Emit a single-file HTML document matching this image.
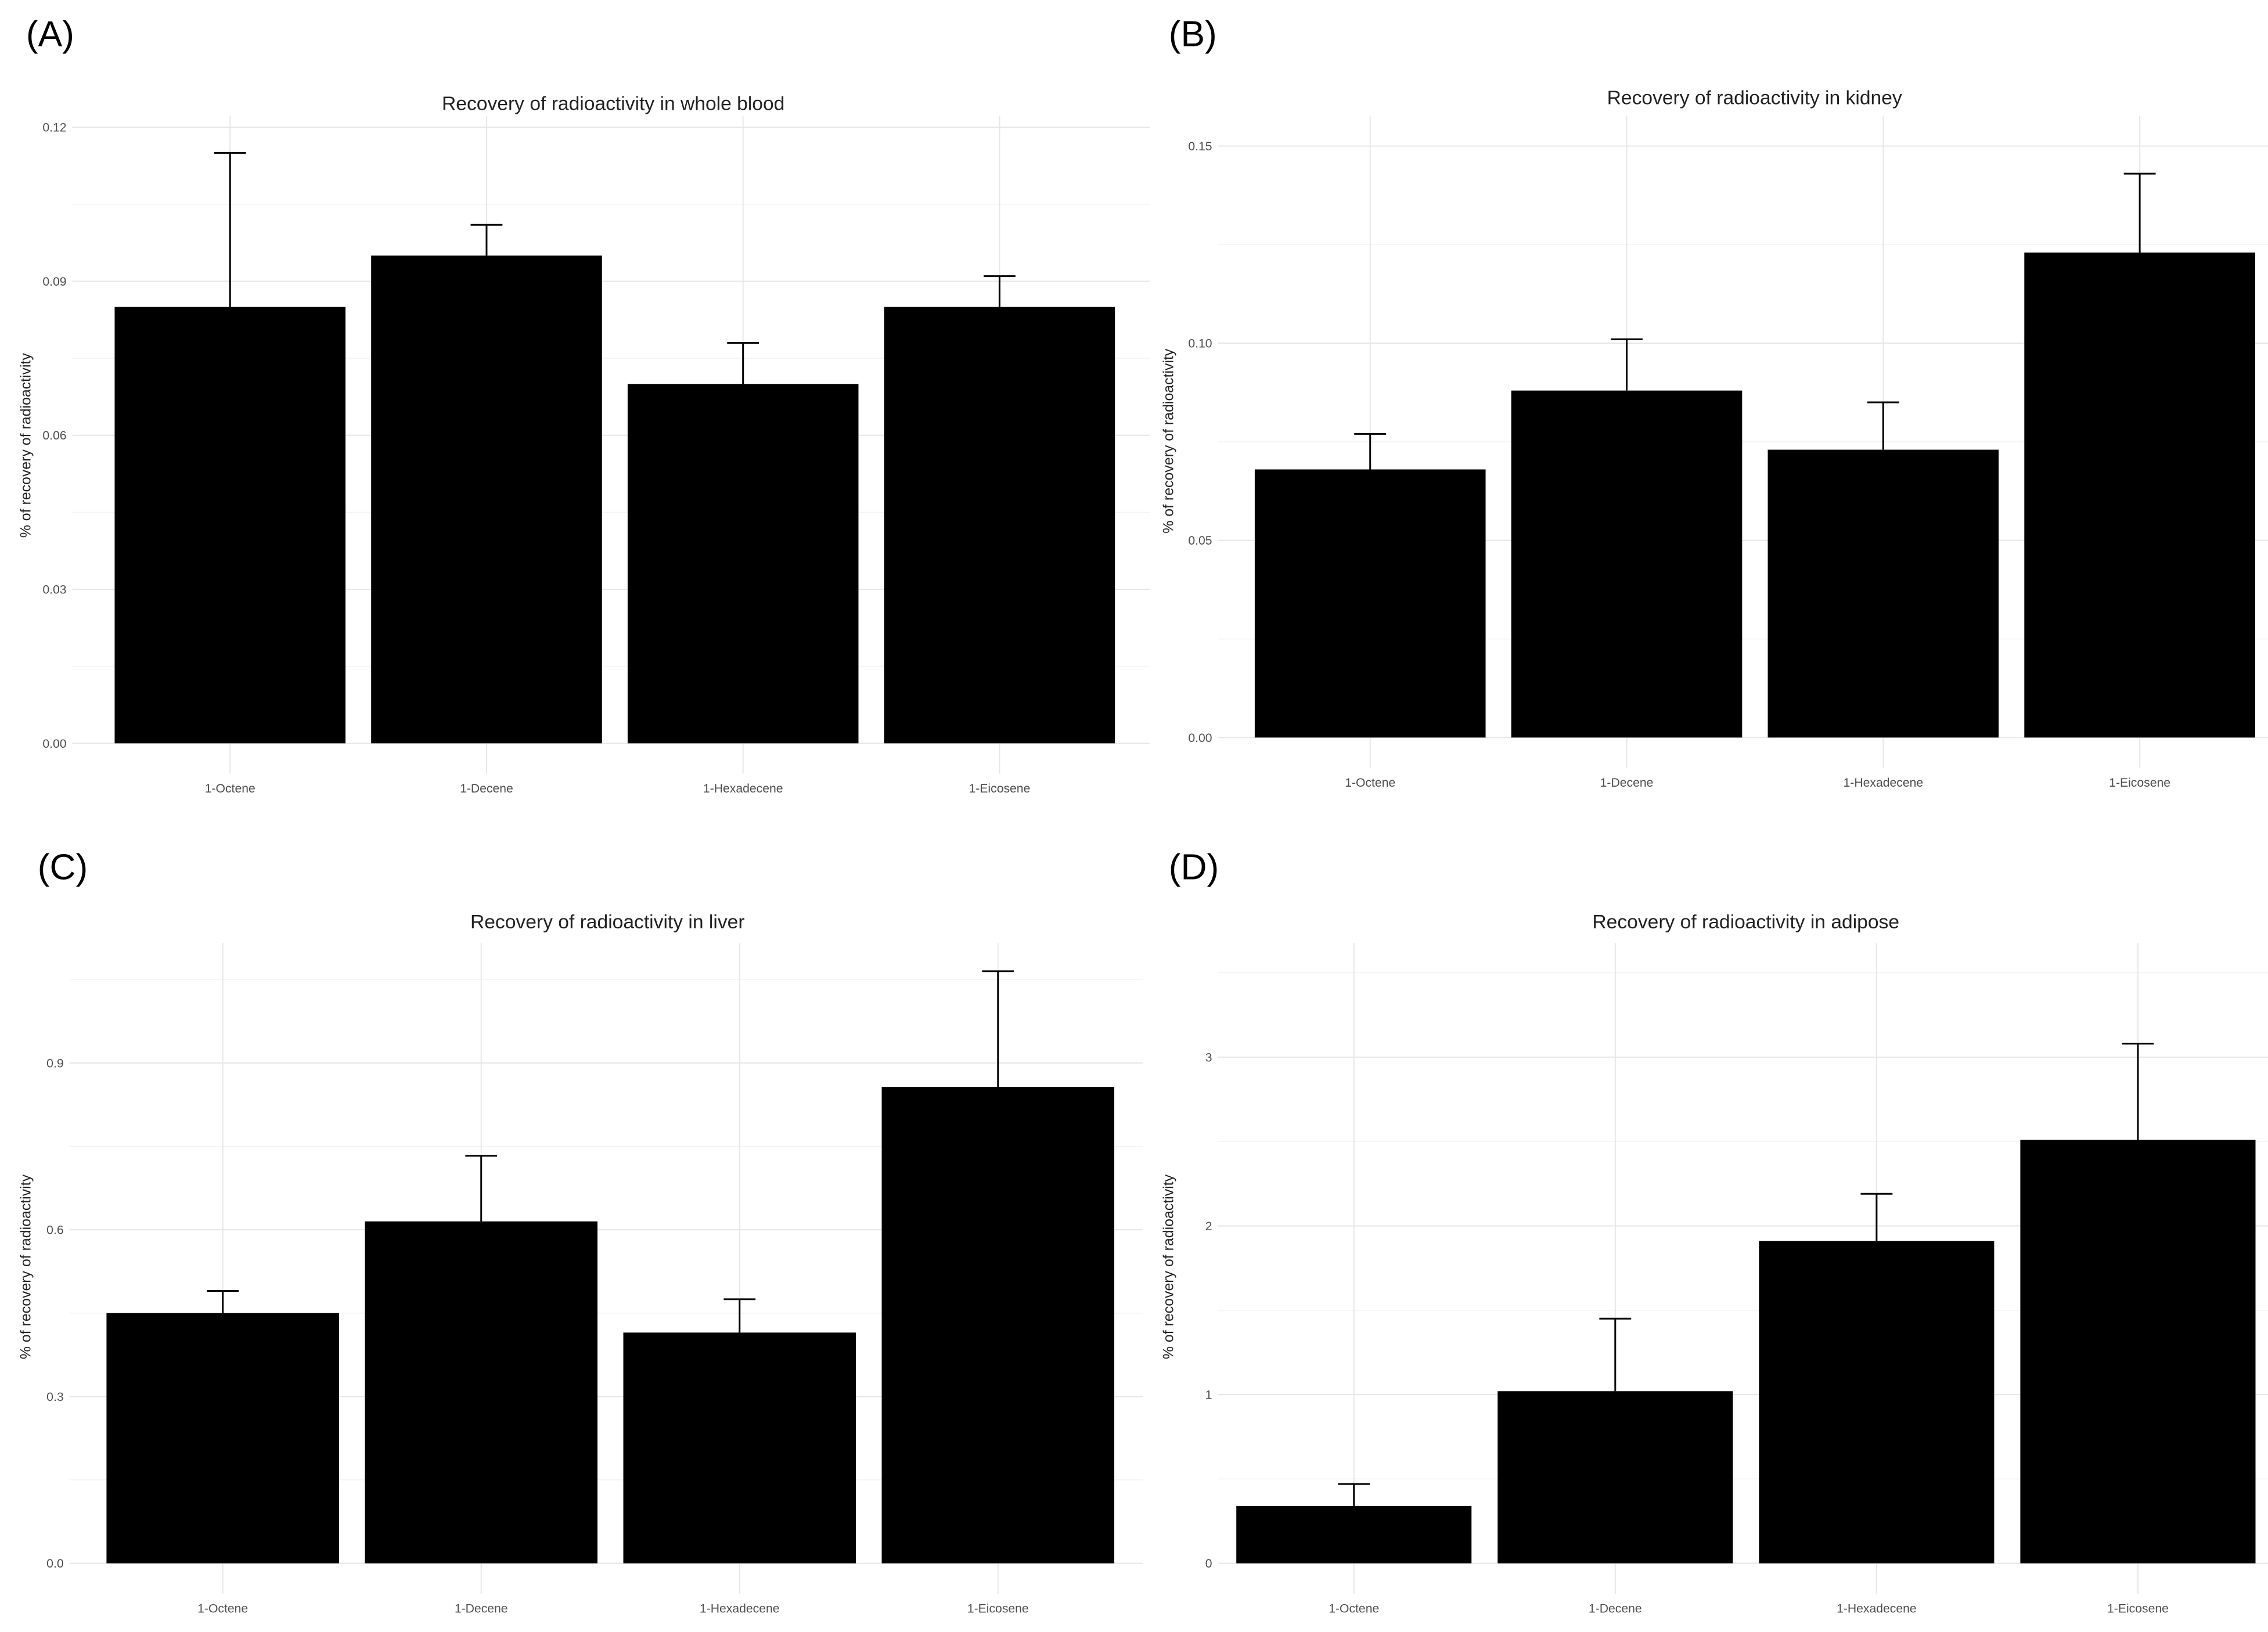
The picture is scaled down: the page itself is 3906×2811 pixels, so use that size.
<!DOCTYPE html>
<html><head><meta charset="utf-8"><style>
html,body{margin:0;padding:0;background:#fff}
svg{display:block;font-family:"Liberation Sans",Arial,sans-serif}
</style></head><body>
<svg id="fig" width="3906" height="2811" viewBox="0 0 1568 1128.5" preserveAspectRatio="none" xmlns="http://www.w3.org/2000/svg"></svg>
<script>
const categories = ["1-Octene","1-Decene","1-Hexadecene","1-Eicosene"];
const bloodValues = [0.085,0.095,0.070,0.085];
const bloodErr = [0.115,0.101,0.078,0.091];
const bloodTicks = [0,0.03,0.06,0.09,0.12];
const bloodTickLabels = ["0.00","0.03","0.06","0.09","0.12"];
const kidneyValues = [0.068,0.088,0.073,0.123];
const kidneyErr = [0.077,0.101,0.085,0.143];
const kidneyTicks = [0,0.05,0.10,0.15];
const kidneyTickLabels = ["0.00","0.05","0.10","0.15"];
const liverValues = [0.45,0.615,0.415,0.857];
const liverErr = [0.49,0.733,0.475,1.065];
const liverTicks = [0,0.3,0.6,0.9];
const liverTickLabels = ["0.0","0.3","0.6","0.9"];
const adiposeValues = [0.34,1.02,1.91,2.51];
const adiposeErr = [0.47,1.45,2.19,3.08];
const adiposeTicks = [0,1,2,3];
const adiposeTickLabels = ["0","1","2","3"];

const svg=document.getElementById('fig');
const NS="http://www.w3.org/2000/svg";
function mk(tag,attrs,parent,text){const e=document.createElementNS(NS,tag);for(const k in attrs)e.setAttribute(k,attrs[k]);if(text!==undefined)e.textContent=text;(parent||svg).appendChild(e);return e;}

function panel(cfg){
  const g=mk('g',{});
  
  
  const yS=v=>cfg.y0-(v-0)*(cfg.y0-cfg.yT)/(cfg.ticks[cfg.ticks.length-1]);
  const step=cfg.ticks[1]-cfg.ticks[0];
  for(let v=step/2; yS(v)>=cfg.top; v+=step){
    const l=mk('line',{x1:cfg.left,x2:cfg.right,y1:yS(v),y2:yS(v),stroke:'#f2f2f2','stroke-width':0.6},g);
    
    
  }
  cfg.ticks.forEach((t,i)=>{
    const l=mk('line',{x1:cfg.left,x2:cfg.right,y1:yS(t),y2:yS(t),stroke:'#e6e6e6','stroke-width':0.8},g);
    
    
    const tx=mk('text',{x:cfg.left-4,y:yS(t)+3,'text-anchor':'end','font-size':8.5,fill:'#4d4d4d'},g,cfg.tickLabels[i]);
    
    
  });
  const band=(cfg.bR-cfg.bL)/categories.length;
  const bw=band*0.9;
  categories.forEach((c,i)=>{
    const cx=cfg.bL+band*(i+0.5);
    const vl=mk('line',{x1:cx,x2:cx,y1:cfg.top,y2:cfg.bottom,stroke:'#e6e6e6','stroke-width':0.8},g);
    
    
    const el=mk('path',{d:`M${cx-11},${yS(cfg.err[i])}H${cx+11}M${cx},${yS(cfg.err[i])}V${yS(cfg.values[i])}`,stroke:'#000','stroke-width':1.2,fill:'none'},g);
    
    
    const r=mk('rect',{x:cx-bw/2,y:yS(cfg.values[i]),width:bw,height:yS(0)-yS(cfg.values[i]),fill:'#000'},g);
    
    
    const xl=mk('text',{x:cx,y:cfg.y0+34,'text-anchor':'middle','font-size':8.5,fill:'#4d4d4d'},g,c);
    
    
  });
  const ti=mk('text',{x:cfg.titleX,y:cfg.titleY,'text-anchor':'middle','font-size':13.5,fill:'#222'},g,cfg.title);
  
  
  const ay=cfg.ytY;
  const yt=mk('text',{x:cfg.ytX,y:ay,'text-anchor':'middle','font-size':10,fill:'#222',transform:`rotate(-90 ${cfg.ytX} ${ay})`},g,'% of recovery of radioactivity');
  
  
  const lb=mk('text',{x:cfg.labX,y:cfg.labY,'font-size':25,fill:'#000'},g,cfg.label);
  
  
}
panel({name:'panel-a-whole-blood',left:50,right:795,bL:70.4,bR:779.7,top:80,bottom:535,y0:514,yT:88,ticks:bloodTicks,tickLabels:bloodTickLabels,values:bloodValues,err:bloodErr,title:'Recovery of radioactivity in whole blood',titleX:424,titleY:76,ytX:21,ytY:308,label:'(A)',labX:18,labY:32});
panel({name:'panel-b-kidney',left:842,right:1568,bL:858.6,bR:1568,top:80,bottom:531,y0:510,yT:101,ticks:kidneyTicks,tickLabels:kidneyTickLabels,values:kidneyValues,err:kidneyErr,title:'Recovery of radioactivity in kidney',titleX:1213,titleY:72,ytX:811,ytY:305,label:'(B)',labX:808,labY:32});
panel({name:'panel-c-liver',left:48,right:790,bL:64.7,bR:779.3,top:652,bottom:1102,y0:1081,yT:735,ticks:liverTicks,tickLabels:liverTickLabels,values:liverValues,err:liverErr,title:'Recovery of radioactivity in liver',titleX:420,titleY:642,ytX:21,ytY:876,label:'(C)',labX:26,labY:608});
panel({name:'panel-d-adipose',left:842,right:1568,bL:845.7,bR:1568.4,top:652,bottom:1102,y0:1081,yT:731,ticks:adiposeTicks,tickLabels:adiposeTickLabels,values:adiposeValues,err:adiposeErr,title:'Recovery of radioactivity in adipose',titleX:1207,titleY:642,ytX:811,ytY:876,label:'(D)',labX:808,labY:608});
</script>
</body></html>
